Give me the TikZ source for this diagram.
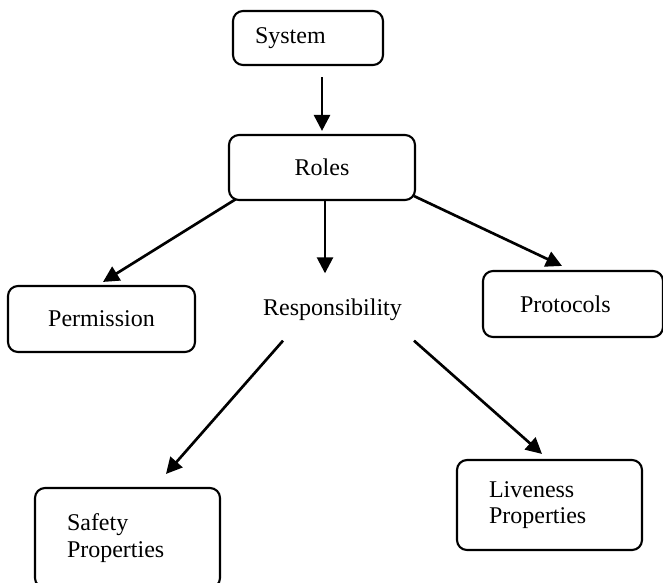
\documentclass[tikz,border=0pt]{standalone}
\usepackage{fontspec}
\setmainfont{Liberation Serif}
\usetikzlibrary{arrows.meta,calc}
\begin{document}
\begin{tikzpicture}[
        x=0.75pt, y=-0.75pt,
        box/.style={draw, rounded corners=7.5pt, line width=1.6pt, font=\fontsize{18pt}{20pt}\selectfont},
        leftbox/.style={box, align=left, inner xsep=#1},
        plain/.style={font=\fontsize{18pt}{20pt}\selectfont, inner sep=0pt},
        link/.style={-{Triangle[length=12pt,width=12pt]}, line width=2pt}
    ]
    \useasboundingbox (0,0) rectangle (663,582);

    % Top level
    \node[leftbox=16.5pt, text width=79.5pt, minimum height=40.5pt] (system) at (308,38) {System};
    \node[box, minimum width=139.5pt, minimum height=48.75pt] (roles) at (322,167.5) {Roles};

    % Middle row
    \node[box, minimum width=140.25pt, minimum height=49.5pt] (perm) at (101.5,319) {Permission};
    \node[plain] (resp) at (332.5,309.5) {Responsibility};
    \node[leftbox=27.75pt, text width=79.5pt, minimum height=49.5pt] (proto) at (573,304) {Protocols};

    % Bottom row
    \node[leftbox=24pt, text width=90.75pt, minimum height=75pt] (safety) at (127.5,538) {Safety\\Properties};
    \node[leftbox=24pt, text width=90.75pt, minimum height=67.5pt] (live) at (549.5,505) {Liveness\\Properties};

    % Arrows
    \draw[link] ($(system.south -| roles.north)+(0,11)$) -- ($(roles.north)+(0,-3)$);
    \draw[link] ($(roles.south west)+(8,-2)$) -- ($(perm.north)+(1.5,-3)$);
    \draw[link] ($(roles.south)+(3,0)$) -- ($(resp.north -| roles.south)+(3,-25)$);
    \draw[link] ($(roles.south east)+(-2,-5)$) -- ($(proto.north)+(-11,-4)$);
    \draw[link] ($(resp.south)+(-49.5,20)$) -- ($(safety.north)+(38.5,-13)$);
    \draw[link] ($(resp.south)+(81.5,20)$) -- ($(live.north)+(-7.5,-5)$);

\end{tikzpicture}
\end{document}
